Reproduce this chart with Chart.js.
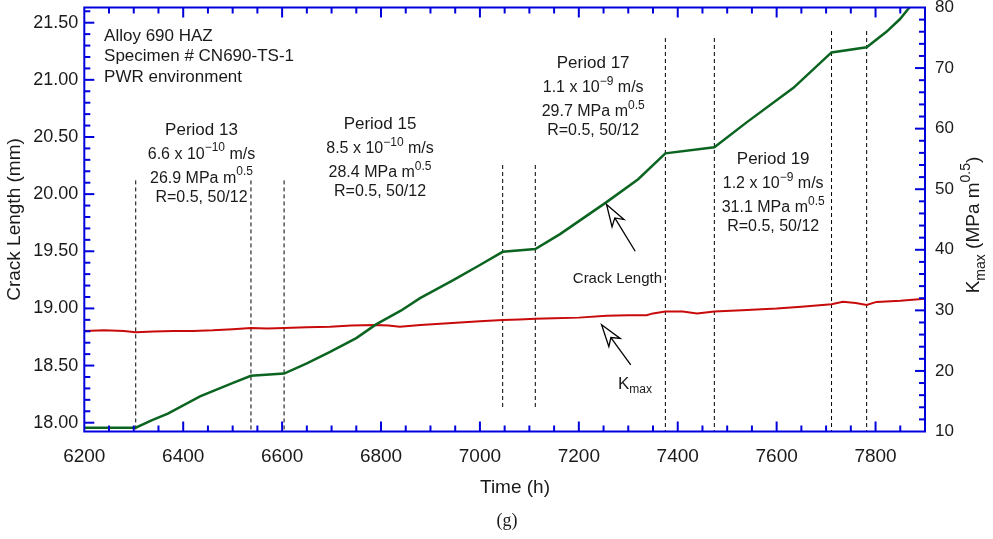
<!DOCTYPE html>
<html>
<head>
<meta charset="utf-8">
<title>Alloy 690 HAZ - crack length and Kmax</title>
<script src="https://cdn.jsdelivr.net/npm/chart.js@4.4.1/dist/chart.umd.min.js"></script>
<style>
  html, body { margin: 0; padding: 0; background: #fff; }
  canvas { display: block; }
</style>
</head>
<body>
<canvas id="crackChart" width="993" height="539"></canvas>
<script>
// crack length (mm) against test time (h)
const crackTime = [6200, 6304, 6336, 6369, 6434, 6502, 6537, 6604, 6650, 6697, 6750, 6790, 6840, 6879, 6947, 7000, 7046, 7112, 7162, 7256, 7320, 7375, 7474, 7540, 7634, 7711, 7782, 7822, 7849, 7866, 7880];
const crackLen = [17.956, 17.956, 18.02, 18.08, 18.23, 18.35, 18.41, 18.43, 18.52, 18.62, 18.74, 18.86, 18.98, 19.09, 19.25, 19.38, 19.495, 19.52, 19.65, 19.93, 20.13, 20.357, 20.41, 20.63, 20.93, 21.24, 21.285, 21.42, 21.53, 21.62, 21.70];

// Kmax (MPa m^0.5) against test time (h)
const kmaxTime = [6200, 6240, 6280, 6304, 6340, 6380, 6420, 6460, 6500, 6537, 6570, 6604, 6650, 6697, 6740, 6790, 6815, 6838, 6880, 6920, 6960, 7000, 7046, 7080, 7112, 7150, 7200, 7256, 7300, 7337, 7350, 7375, 7410, 7439, 7474, 7530, 7570, 7600, 7650, 7711, 7734, 7760, 7782, 7802, 7850, 7900];
const kmaxVal = [26.6, 26.7, 26.6, 26.4, 26.5, 26.6, 26.6, 26.7, 26.9, 27.1, 27.0, 27.1, 27.2, 27.3, 27.5, 27.6, 27.5, 27.3, 27.6, 27.8, 28.0, 28.2, 28.4, 28.5, 28.6, 28.7, 28.8, 29.1, 29.2, 29.2, 29.5, 29.8, 29.8, 29.5, 29.8, 30.0, 30.2, 30.3, 30.6, 31.0, 31.4, 31.2, 30.9, 31.4, 31.6, 31.9];

// period boundaries (dashed lines), extent in mm
const markerTime = [6304, 6537, 6604, 7046, 7112, 7375, 7474, 7711, 7782];
const markerTop = [20.12, 20.12, 20.12, 20.255, 20.255, 21.366, 21.366, 21.427, 21.427];
const markerBottom = [17.923, 17.923, 17.923, 18.111, 18.111, 17.923, 17.923, 17.923, 17.923];

// tick labels
const timeTicks = [6200, 6400, 6600, 6800, 7000, 7200, 7400, 7600, 7800];
const lengthTicks = [18.0, 18.5, 19.0, 19.5, 20.0, 20.5, 21.0, 21.5];
const kmaxTicks = [10, 20, 30, 40, 50, 60, 70, 80];

// period notes, placed at (time, mm) of the first line
const periodNames = ['Period 13', 'Period 15', 'Period 17', 'Period 19'];
const periodRate = ['6.6 x 10', '8.5 x 10', '1.1 x 10', '1.2 x 10'];
const periodRateExp = ['\u221210', '\u221210', '\u22129', '\u22129'];
const periodKmax = ['26.9', '28.4', '29.7', '31.1'];
const periodNoteTime = [6437, 6798, 7229, 7593];
const periodNoteTop = [20.562, 20.613, 21.147, 20.307];

const specimenLines = ['Alloy 690 HAZ', 'Specimen # CN690-TS-1', 'PWR environment'];

const BLUE = '#0000dc';
const INK = '#1a1a1a';
const SANS = '"Liberation Sans", Arial, Helvetica, sans-serif';

Chart.defaults.font.family = SANS;
Chart.defaults.color = INK;

// text with sub/superscripts: parts = [[text, 'sup' | 'sub' | undefined], ...]
function richText(ctx, parts, x, y, size, align) {
  const small = Math.round(size * 0.72);
  const widths = parts.map(([s, kind]) => {
    ctx.font = (kind ? small : size) + 'px ' + SANS;
    return ctx.measureText(s).width;
  });
  const total = widths.reduce((a, b) => a + b, 0);
  let cx = align === 'center' ? x - total / 2 : (align === 'right' ? x - total : x);
  ctx.textAlign = 'left';
  ctx.textBaseline = 'middle';
  parts.forEach(([s, kind], i) => {
    ctx.font = (kind ? small : size) + 'px ' + SANS;
    const dy = kind === 'sup' ? -size * 0.42 : (kind === 'sub' ? size * 0.35 : 0);
    ctx.fillText(s, cx, y + dy);
    cx += widths[i];
  });
}

function drawArrow(ctx, tipX, tipY, tailX, tailY) {
  const dx = tipX - tailX, dy = tipY - tailY, len = Math.hypot(dx, dy);
  const ux = dx / len, uy = dy / len, nx = -uy, ny = ux;
  const L = 22, W = 7;
  const bx = tipX - ux * L, by = tipY - uy * L;
  const notchX = tipX - ux * L * 0.72, notchY = tipY - uy * L * 0.72;
  ctx.beginPath();
  ctx.moveTo(tailX, tailY);
  ctx.lineTo(notchX, notchY);
  ctx.stroke();
  ctx.beginPath();
  ctx.moveTo(tipX, tipY);
  ctx.lineTo(bx + nx * W, by + ny * W);
  ctx.lineTo(notchX, notchY);
  ctx.lineTo(bx - nx * W, by - ny * W);
  ctx.closePath();
  ctx.fillStyle = '#fff';
  ctx.fill();
  ctx.stroke();
}

// blue frame with inward ticks on all four sides, titles and notes
const framePlugin = {
  id: 'framePlugin',
  afterDatasetsDraw(chart) {
    const { ctx, chartArea: a, scales } = chart;
    const sx = scales.x, sy = scales.y, sk = scales.y2;
    const px = t => sx.getPixelForValue(t);
    const py = v => sy.getPixelForValue(v);
    ctx.save();

    ctx.strokeStyle = BLUE;
    ctx.lineWidth = 2;
    const seg = (x1, y1, x2, y2) => { ctx.beginPath(); ctx.moveTo(x1, y1); ctx.lineTo(x2, y2); ctx.stroke(); };

    // time: minor every 50 h, major every 200 h
    for (let t = 6250; t < 7900; t += 50) {
      const len = (t - 6200) % 200 === 0 ? 10 : 6;
      const x = px(t);
      seg(x, a.bottom, x, a.bottom - len);
      seg(x, a.top, x, a.top + len);
    }
    // crack length: minor every 0.1 mm, major every 0.5 mm
    for (let i = 0; i <= 36; i++) {
      const y = py(18 + i * 0.1);
      if (y < a.top + 1) continue;
      seg(a.left, y, a.left + (i % 5 === 0 ? 10 : 6), y);
    }
    // Kmax: minor every 2, major every 10
    for (let k = 12; k < 80; k += 2) {
      const y = sk.getPixelForValue(k);
      seg(a.right, y, a.right - (k % 10 === 0 ? 10 : 6), y);
    }
    ctx.strokeRect(a.left, a.top, a.right - a.left, a.bottom - a.top);

    ctx.fillStyle = INK;

    // specimen block
    ctx.font = '17px ' + SANS;
    ctx.textAlign = 'left';
    ctx.textBaseline = 'middle';
    specimenLines.forEach((s, i) => ctx.fillText(s, px(6240), py(21.383) + i * 20.5));

    // period notes
    periodNames.forEach((name, i) => {
      const cx = px(periodNoteTime[i]);
      const y0 = py(periodNoteTop[i]);
      ctx.fillStyle = INK;
      ctx.font = '17px ' + SANS;
      ctx.textAlign = 'center';
      ctx.textBaseline = 'middle';
      ctx.fillText(name, cx, y0);
      richText(ctx, [[periodRate[i]], [periodRateExp[i], 'sup'], [' m/s']], cx, y0 + 25, 16, 'center');
      richText(ctx, [[periodKmax[i] + ' MPa m'], ['0.5', 'sup']], cx, y0 + 49, 16, 'center');
      ctx.font = '16px ' + SANS;
      ctx.textAlign = 'center';
      ctx.fillText('R=0.5, 50/12', cx, y0 + 68);
    });

    // curve labels and arrows
    ctx.font = '15px ' + SANS;
    ctx.textAlign = 'center';
    ctx.textBaseline = 'middle';
    ctx.fillText('Crack Length', px(7278), py(19.257));
    richText(ctx, [['K'], ['max', 'sub']], px(7279), py(18.339), 17, 'left');

    ctx.strokeStyle = '#000';
    ctx.lineWidth = 1.3;
    drawArrow(ctx, px(7256), py(19.91), px(7314), py(19.50));
    drawArrow(ctx, px(7246), py(18.857), px(7305), py(18.506));

    // axis titles
    ctx.fillStyle = INK;
    ctx.save();
    ctx.translate(15, (a.top + a.bottom) / 2);
    ctx.rotate(-Math.PI / 2);
    ctx.font = '19px ' + SANS;
    ctx.textAlign = 'center';
    ctx.textBaseline = 'middle';
    ctx.fillText('Crack Length (mm)', 0, 0);
    ctx.restore();

    ctx.save();
    ctx.translate(974, 225);
    ctx.rotate(-Math.PI / 2);
    richText(ctx, [['K'], ['max', 'sub']].concat([[' (MPa m'], ['0.5', 'sup'], [')']]), 0, 0, 19, 'center');
    ctx.restore();

    ctx.font = '19px ' + SANS;
    ctx.textAlign = 'center';
    ctx.textBaseline = 'middle';
    ctx.fillText('Time (h)', 515, 488);

    ctx.font = '18px "Liberation Serif", "Times New Roman", serif';
    ctx.fillText('(g)', 507, 521);

    ctx.restore();
  }
};

const pairs = (xs, ys) => xs.map((x, i) => ({ x: x, y: ys[i] }));

const datasets = [
  {
    label: 'Crack Length',
    data: pairs(crackTime, crackLen),
    yAxisID: 'y',
    borderColor: '#0b6420',
    borderWidth: 2.5,
    clip: 0
  },
  {
    label: 'Kmax',
    data: pairs(kmaxTime, kmaxVal),
    yAxisID: 'y2',
    borderColor: '#c80a0a',
    borderWidth: 2,
    clip: 0
  }
].concat(markerTime.map((t, i) => ({
  label: 'boundary ' + t,
  data: [{ x: t, y: markerTop[i] }, { x: t, y: markerBottom[i] }],
  yAxisID: 'y',
  borderColor: '#000',
  borderWidth: 1,
  borderDash: [4, 3],
  clip: 0
})));

new Chart(document.getElementById('crackChart'), {
  type: 'line',
  data: { datasets: datasets },
  options: {
    responsive: false,
    animation: false,
    devicePixelRatio: 1,
    layout: { padding: { top: 7.5, left: 0, right: 0, bottom: 0 } },
    elements: { point: { radius: 0 }, line: { tension: 0 } },
    plugins: { legend: { display: false }, tooltip: { enabled: false } },
    scales: {
      x: {
        type: 'linear',
        min: 6200,
        max: 7900,
        grid: { display: false, drawTicks: false },
        border: { display: false },
        afterBuildTicks: s => { s.ticks = timeTicks.map(v => ({ value: v })); },
        afterFit: s => { s.height = 107.5; s.paddingLeft = 0; s.paddingRight = 0; },
        ticks: { padding: 14, font: { size: 19 }, maxRotation: 0, autoSkip: false, callback: v => String(v) }
      },
      y: {
        type: 'linear',
        position: 'left',
        min: 17.923,
        max: 21.633,
        grid: { display: false, drawTicks: false },
        border: { display: false },
        afterBuildTicks: s => { s.ticks = lengthTicks.map(v => ({ value: v })); },
        afterFit: s => { s.width = 84.3; s.paddingTop = 0; s.paddingBottom = 0; },
        ticks: { padding: 6, font: { size: 18 }, autoSkip: false, callback: v => v.toFixed(2) }
      },
      y2: {
        type: 'linear',
        position: 'right',
        min: 10,
        max: 80,
        grid: { display: false, drawTicks: false },
        border: { display: false },
        afterBuildTicks: s => { s.ticks = kmaxTicks.map(v => ({ value: v })); },
        afterFit: s => { s.width = 68; s.paddingTop = 0; s.paddingBottom = 0; },
        ticks: { padding: 10, font: { size: 17 }, autoSkip: false, callback: v => String(v) }
      }
    }
  },
  plugins: [framePlugin]
});
</script>
</body>
</html>
